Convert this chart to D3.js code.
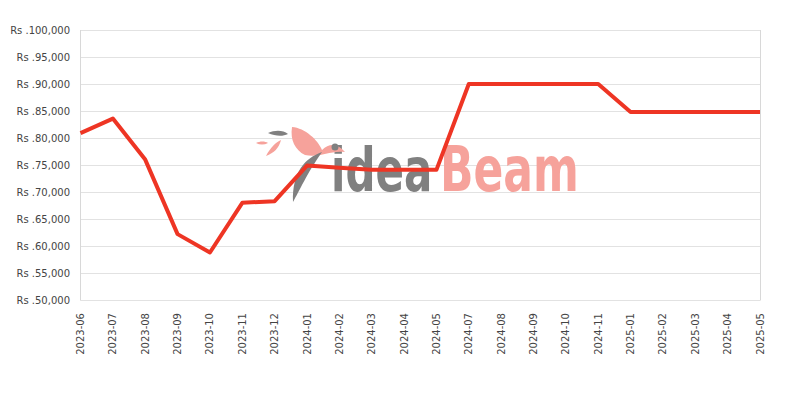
<!DOCTYPE html>
<html><head><meta charset="utf-8">
<script src="https://cdn.jsdelivr.net/npm/d3@7"></script>
<style>body{margin:0;background:#fff}svg{display:block}</style>
</head><body>
<svg id="c" width="800" height="400"></svg>
<script>
const months = ["2023-06","2023-07","2023-08","2023-09","2023-10","2023-11","2023-12","2024-01","2024-02","2024-03","2024-04","2024-05","2024-07","2024-08","2024-09","2024-10","2024-11","2025-01","2025-02","2025-03","2025-04","2025-05"];
const prices = [80900,83600,76000,62200,58800,68000,68300,74900,74500,74100,74100,74100,90000,90000,90000,90000,90000,84800,84800,84800,84800,84800];
const yTicks = [50000,55000,60000,65000,70000,75000,80000,85000,90000,95000,100000];

const svg = d3.select("#c");
const m = {l:80.5, r:760, t:30, b:300};
const x = d3.scalePoint().domain(months).range([m.l, m.r]);
const y = d3.scaleLinear().domain([50000,100000]).range([m.b, m.t]);

// grid
svg.append("g").selectAll("line").data(yTicks).join("line")
  .attr("x1", m.l).attr("x2", m.r)
  .attr("y1", d => Math.round(y(d))+0.5).attr("y2", d => Math.round(y(d))+0.5)
  .attr("stroke", "#e2e2e2").attr("stroke-width", 1);
svg.append("line").attr("x1", m.l).attr("x2", m.l).attr("y1", m.t).attr("y2", m.b+0.5).attr("stroke","#d8d8d8");
svg.append("line").attr("x1", m.r+0.5).attr("x2", m.r+0.5).attr("y1", m.t).attr("y2", m.b+0.5).attr("stroke","#d8d8d8");

// watermark
const wm = svg.append("g");
wm.append("text").attr("transform", "translate(331,191) scale(1,1.45)")
  .attr("font-family", "DejaVu Sans").attr("font-weight", "bold").attr("font-size", 42)
  .attr("fill", "#808080").text("idea");
wm.append("text").attr("transform", "translate(440,191) scale(1,1.4)")
  .attr("font-family", "DejaVu Sans").attr("font-weight", "bold").attr("font-size", 44)
  .attr("fill", "#f6a29b").text("Beam");
// bird-ish shapes
wm.append("path").attr("d","M292,127 C305,128 318,140 322,150 C330,142 338,144 345,152 C330,150 320,158 305,155 C295,150 290,140 292,127Z").attr("fill","#f6a29b");
wm.append("path").attr("d","M322,152 C305,158 292,172 293,202 C300,190 306,175 322,152Z").attr("fill","#808080");
wm.append("path").attr("d","M268,133 C275,130 283,130 288,134 C282,137 275,136 268,133Z").attr("fill","#808080");
wm.append("path").attr("d","M266,156 C270,148 276,142 281,140 C279,148 274,153 266,156Z").attr("fill","#f6a29b");
wm.append("path").attr("d","M256,143 C260,141 265,141 268,143 C264,145 260,145 256,143Z").attr("fill","#f6a29b");
wm.append("circle").attr("cx",335).attr("cy",147).attr("r",3.5).attr("fill","#808080");

// line
svg.append("path").datum(months.map((d,i)=>[d,prices[i]]))
  .attr("fill","none").attr("stroke","#ee3524").attr("stroke-width",4).attr("stroke-linejoin","round")
  .attr("d", d3.line().x(d => x(d[0])).y(d => y(d[1])));

// y axis labels
const fmt = d3.format(",");
svg.append("g").selectAll("text").data(yTicks).join("text")
  .attr("x", 70).attr("y", d => y(d)).attr("dy","0.35em")
  .attr("text-anchor","end").attr("font-family","DejaVu Sans").attr("font-size",10).attr("fill","#444")
  .text(d => "Rs ." + fmt(d));

// x axis labels
svg.append("g").selectAll("text").data(months).join("text")
  .attr("transform", d => `translate(${x(d)+3.5},${m.b+13}) rotate(-90)`)
  .attr("text-anchor","end").attr("font-family","DejaVu Sans").attr("font-size",10).attr("fill","#444")
  .text(d => d);
</script>
</body></html>
